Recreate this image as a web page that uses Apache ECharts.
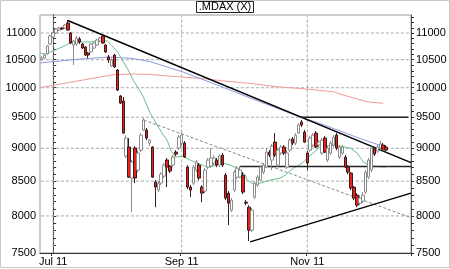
<!DOCTYPE html>
<html><head><meta charset="utf-8">
<script src="https://cdn.jsdelivr.net/npm/echarts@6/dist/echarts.min.js"></script>
<style>html,body{margin:0;padding:0;background:#fff}#c{width:450px;height:269px}</style>
</head><body><div id="c"></div>
<script>
// trading days per month (categories)
const tradingDays = {
  '2011-06': [27,28,29,30],
  '2011-07': [1,4,5,6,7,8,11,12,13,14,15,18,19,20,21,22,25,26,27,28,29],
  '2011-08': [1,2,3,4,5,8,9,10,11,12,15,16,17,18,19,22,23,24,25,26,29,30,31],
  '2011-09': [1,2,5,6,7,8,9,12,13,14,15,16,19,20,21,22,23,26,27,28,29,30],
  '2011-10': [3,4,5,6,7,10,11,12,13,14,17,18,19,20,21,24,25,26,27,28,31],
  '2011-11': [1,2,3,4,7,8,9,10,11,14,15,16,17,18,21,22,23,24,25,28,29,30],
  '2011-12': [1,2,5,6,7,8,9,12,13,14,15,16,19,20]
};
const categories = [];
Object.keys(tradingDays).forEach(m => tradingDays[m].forEach(d => categories.push(m + '-' + String(d).padStart(2,'0'))));

const xLabelDates = ['2011-07-01','2011-09-01','2011-11-01'];
const xLabelTexts = ['Jul 11','Sep 11','Nov 11'];
const yLabelValues = [7500,8000,8500,9000,9500,10000,10500,11000];
const yMinorTicks = [7500,7600,7700,7800,7900,8000,8100,8200,8300,8400,8500,8600,8700,8800,8900,9000,9100,9200,9300,9400,9500,9600,9700,9800,9900,10000,10100,10200,10300,10400,10500,10600,10700,10800,10900,11000,11100,11200,11300];
const Y_MIN = 7500, Y_MAX = 11350;

// [open, close, low, high]
const candles = [
[10495,10531,10477,10568],[10531,10586,10513,10605],[10605,10753,10586,10772],[10791,10943,10772,10962],
[10924,11000,10905,11019],[11000,11077,10981,11096],[11058,11096,11039,11116],[11096,11077,11058,11116],
[11096,11154,11077,11174],[11193,11058,11039,11252],[11000,10810,10791,11019],[10772,10848,10404,10867],
[10791,10905,10753,10943],[10886,10829,10791,10924],[10791,10716,10698,10810],[10735,10586,10568,10753],
[10623,10586,10531,10642],[10642,10791,10623,10810],[10716,10810,10698,10829],[10772,10867,10753,10886],
[10848,10905,10829,10924],[10943,10810,10791,10962],[10772,10642,10623,10791],[10550,10495,10441,10586],
[10386,10495,10368,10531],[10586,10368,10350,10605],[10313,9960,9943,10331],[9857,9737,9720,9874],
[9771,9241,9225,9840],[8879,9161,8848,9209],[9019,8559,8545,9161],[8545,8786,8053,8817],
[9003,8545,8471,9034],[8664,8925,8634,8971],[8971,9209,8940,9241],[9290,9453,9274,9486],
[9290,9161,9129,9322],[9082,9129,9034,9145],[9019,8559,8545,9034],[8485,8412,8123,8515],
[8368,8471,8339,8500],[8471,8604,8441,8634],[8574,8740,8545,8771],[8817,8710,8412,8848],
[8725,8649,8619,8740],[8740,8863,8710,8894],[8940,8909,8879,8971],[9003,9177,8971,9209],
[9082,9209,9050,9258],[9082,8863,8848,9113],[8710,8412,8383,8740],[8412,8368,8266,8441],
[8471,8710,8441,8740],[8664,8786,8634,8817],[8740,8545,8515,8771],[8412,8324,8194,8441],
[8353,8664,8324,8694],[8710,8817,8679,8848],[8725,8848,8694,9003],[8771,8848,8740,8894],
[8817,8740,8710,8848],[8740,8879,8710,8909],[8894,8740,8710,8925],[8589,8252,8223,8619],
[8324,8180,7873,8353],[8081,8223,8053,8252],[8368,8634,8339,8664],[8559,8694,8530,8725],
[8559,8664,8545,8725],[8589,8339,8310,8634],[8194,8180,8152,8223],[8123,7804,7657,8152],
[7804,8081,7777,8109],[8266,8471,8237,8500],[8441,8559,8412,8589],[8515,8710,8500,8740],
[8634,8740,8604,8771],[8710,8940,8694,9003],[8940,8894,8863,8971],[8817,9034,8664,9066],
[9097,8894,8863,9241],[8740,8971,8710,9003],[8925,9019,8894,9050],[9019,8925,8894,9050],
[8710,8925,8679,8971],[8971,9129,8940,9161],[9145,9082,9050,9177],[9082,9209,9050,9241],
[9241,9371,9225,9404],[9420,9371,9339,9453],[9258,9097,9082,9290],[8925,8771,8664,8956],
[8971,9161,8940,9193],[9050,9209,9019,9241],[9241,9019,9003,9274],[9050,9097,9019,9129],
[8925,9129,8894,9161],[9161,8940,8925,9193],[8817,9003,8786,9034],[8925,9082,8894,9113],
[9050,9177,9019,9209],[9209,9003,8971,9241],[8863,9019,8832,9050],[8925,9019,8894,9050],
[8863,8710,8694,8894],[8710,8634,8604,8740],[8619,8397,8368,8634],[8412,8252,8223,8427],
[8295,8152,8123,8324],[8180,8252,8152,8295],[8209,8295,8180,8339],[8339,8634,8310,8664],
[8559,8817,8530,8848],[8664,9003,8634,9034],[9003,8909,8879,9019],[8956,9019,8925,9050],
[9003,9066,8971,9113],[9050,8987,8956,9082],[9019,8971,8956,9050]
];

// moving averages: [day index from Jul 1, value]
const maShort = [[-4.45,10623],[-2.74,10605],[0.68,10679],[3.1,10735],[5.8,10810],[9.2,10829],[12.7,10829],[16.1,10867],[18.5,10848],[20.5,10740],[22.3,10623],[24.0,10466],[25.7,10313],[27.4,10135],[29.1,9995],[30.8,9850],[33.2,9569],[36.0,9339],[37.7,9209],[39.0,9129],[40.4,8956],[41.8,8863],[44.5,8879],[46.9,8817],[49.3,8771],[52.7,8710],[56.2,8740],[58.2,8771],[60.6,8740],[63.0,8694],[65.8,8589],[66.4,8515],[69.2,8441],[70.9,8471],[74.3,8515],[77.7,8545],[79.5,8589],[82.2,8694],[85.3,8771],[87.0,8848],[89.0,8925],[91.4,9019],[94.9,9050],[98.3,9034],[101.7,9003],[104.1,8925],[106.2,8786],[108.6,8725],[113.7,8710]];
const maMid = [[-4.45,10441],[2.4,10477],[9.2,10513],[19.5,10550],[27.4,10522],[33.2,10465],[44.5,10277],[56.2,10047],[67.5,9822],[84.6,9502],[91.4,9396],[98.3,9274],[105.1,9153],[113.7,9019]];
const maLong = [[-4.45,10003],[2.4,10064],[9.2,10126],[16.1,10189],[21.2,10233],[28.1,10242],[33.2,10233],[41.8,10197],[50.3,10165],[58.9,10117],[67.5,10076],[76.0,10020],[84.6,9986],[95.9,9931],[99.3,9874],[107.5,9759],[113.0,9732]];

// drawn trend lines
const upperTrend = [[5.0,11243],[122.5,8778]];
const lowerTrend = [[67.4,7647],[122.5,8324]];
const dashedTrend = [[31.0,9453],[122.5,7976]];
const resistance = [[84.5,9500],[121.6,9500]];
const support = [[64.0,8717],[122.5,8717]];

const FONT = 'Liberation Sans, Arial, sans-serif';
const OFFSET = categories.indexOf('2011-07-01');
const X_MIN = -OFFSET - 0.5, X_MAX = categories.length - OFFSET - 0.5;
const chart = echarts.init(document.getElementById('c'), null, {renderer:'canvas'});
const lineS = (data, color, width, type) => ({
  type:'line', xAxisIndex:1, yAxisIndex:0, data, symbol:'none', silent:true,
  lineStyle:{color, width, type: type || 'solid'}, z:3
});
const GRID_COLOR = '#a8a8a8';
const hGrid = yLabelValues.filter(v => v > Y_MIN).map(v => lineS([[X_MIN + 0.3, v],[X_MAX - 0.3, v]], GRID_COLOR, 1, [3,2]));
const vGrid = xLabelDates.map(d => { const k = categories.indexOf(d) - OFFSET; return lineS([[k, Y_MIN * 1.001],[k, Y_MAX * 0.999]], GRID_COLOR, 1, [3,2]); });
const fmtY = v => String(Math.round(v));
chart.setOption({
  animation:false,
  backgroundColor:'#fff',
  title:{text:'.MDAX (X)', left:'center', top:1, padding:[0,2,0,2],
    borderColor:'#222', borderWidth:1, backgroundColor:'#fff',
    textStyle:{fontFamily:FONT, fontSize:11, fontWeight:'normal', color:'#000', lineHeight:12}},
  graphic:[{type:'rect', shape:{x:0.5,y:0.5,width:449,height:267}, style:{fill:'none', stroke:'#c8c8c8', lineWidth:1}, silent:true}],
  grid:{left:40, right:39, top:15, bottom:16, show:true, borderColor:'#999', borderWidth:1},
  xAxis:[{
    type:'category', data:categories, boundaryGap:true,
    axisLine:{lineStyle:{color:'#333'}},
    axisTick:{show:true, length:3, interval:(i,v)=>xLabelDates.includes(v), lineStyle:{color:'#333'}},
    axisLabel:{interval:(i,v)=>xLabelDates.includes(v), formatter:v=>xLabelTexts[xLabelDates.indexOf(v)] || '',
      fontFamily:FONT, fontSize:11, color:'#000', margin:3},
    splitLine:{show:false}
  },{
    type:'value', min:X_MIN, max:X_MAX, show:false
  }],
  yAxis:[{
    type:'log', position:'left', min:Y_MIN, max:Y_MAX,
    axisLine:{show:true, lineStyle:{color:'#333'}},
    axisTick:{show:true, inside:true, length:3, customValues:yMinorTicks, lineStyle:{color:'#333'}},
    axisLabel:{customValues:yLabelValues, formatter:fmtY, fontFamily:FONT, fontSize:11, color:'#000', margin:4},
    splitLine:{show:false}
  },{
    type:'log', position:'right', min:Y_MIN, max:Y_MAX,
    axisLine:{show:true, lineStyle:{color:'#555'}},
    axisTick:{show:true, inside:false, length:3, customValues:yMinorTicks, lineStyle:{color:'#333'}},
    axisLabel:{customValues:yLabelValues, formatter:fmtY, fontFamily:FONT, fontSize:11, color:'#000', margin:5},
    splitLine:{show:false}
  }],
  series:[
    ...hGrid,
    ...vGrid,
    {type:'candlestick', xAxisIndex:0, yAxisIndex:0, data:candles, barWidth:3, z:4,
      itemStyle:{color:'#ffffff', color0:'#e3231c', borderColor:'#8c8c8c', borderColor0:'#3a1a1a', borderWidth:1}},
    lineS(maLong, '#f29a9a', 1),
    lineS(maMid, '#8c9be0', 1),
    lineS(maShort, '#6cc08a', 1),
    lineS(dashedTrend, '#888', 1, [3,2]),
    lineS(upperTrend, '#000', 1.5),
    lineS(lowerTrend, '#000', 1.5),
    lineS(resistance, '#222', 1.5),
    lineS(support, '#222', 1.5)
  ]
});
</script></body></html>
